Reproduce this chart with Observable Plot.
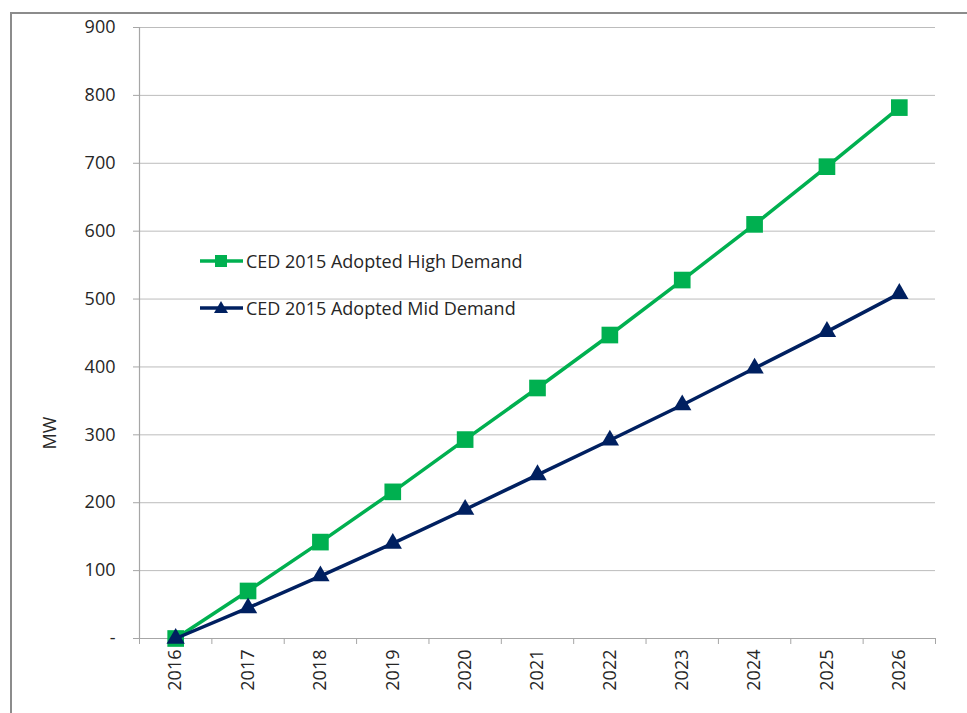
<!DOCTYPE html>
<html><head><meta charset="utf-8">
<script src="https://cdn.jsdelivr.net/npm/d3@7"></script>
<script src="https://cdn.jsdelivr.net/npm/@observablehq/plot@0.6"></script>
<style>
body{margin:0;background:#fff;font-family:"Open Sans",sans-serif;}
#wrap{position:relative;width:967px;height:713px;overflow:hidden;}
#frame{position:absolute;left:10px;top:12px;width:1000px;height:800px;border:2px solid #8c8c8c;box-sizing:border-box;pointer-events:none;}
.leg{position:absolute;left:200px;display:flex;align-items:center;font-size:18px;color:#262626;}
.leg svg{margin-right:3px;}
#ylab{position:absolute;left:49px;top:433px;transform:translate(-50%,-50%) rotate(-90deg);font-size:18px;color:#262626;}
</style></head>
<body><div id="wrap"><div id="frame"></div></div>
<script>
const years = [2016,2017,2018,2019,2020,2021,2022,2023,2024,2025,2026];
const highDemand = [0,70,142,216,293,369,447,528,610,695,782];
const midDemand = [0,45,92,140,190,241,292,344,398,452,508];
const seriesNames = ["CED 2015 Adopted High Demand","CED 2015 Adopted Mid Demand"];
const yTicks = [0,100,200,300,400,500,600,700,800,900];
const colors = ["#00B050","#002060"];

const high = years.map((y,i)=>({year:y,value:highDemand[i]}));
const mid = years.map((y,i)=>({year:y,value:midDemand[i]}));
const bounds = years.map(y=>y-0.5).concat([years[years.length-1]+0.5]);

const chart = Plot.plot({
  width:967, height:713,
  marginLeft:139, marginRight:32, marginTop:27, marginBottom:75,
  style:{fontFamily:"Open Sans, sans-serif", fontSize:"18px", color:"#262626", background:"transparent"},
  x:{type:"linear", domain:[bounds[0], bounds[bounds.length-1]]},
  y:{domain:[0,900]},
  marks:[
    Plot.gridY(yTicks,{stroke:"#bcbcbc",strokeOpacity:1}),
    Plot.ruleX([bounds[0]],{stroke:"#a6a6a6",strokeWidth:1.2}),
    Plot.ruleY([0],{stroke:"#a6a6a6",strokeWidth:1.2}),
    Plot.axisY(yTicks,{tickSize:6,tickPadding:18,stroke:"#a6a6a6",tickFormat:d=>d===0?"-":d,label:null,fontSize:18}),
    Plot.axisX(bounds,{tickSize:6,tickFormat:()=>"",stroke:"#a6a6a6",label:null}),
    Plot.axisX(years,{tickSize:0,tickPadding:11,tickRotate:-90,tickFormat:d=>String(d),label:null,fontSize:18}),
    Plot.line(high,{x:"year",y:"value",stroke:colors[0],strokeWidth:3.5}),
    Plot.dot(high,{x:"year",y:"value",symbol:"square",r:9.4,fill:colors[0]}),
    Plot.line(mid,{x:"year",y:"value",stroke:colors[1],strokeWidth:3.5}),
    Plot.dot(mid,{x:"year",y:"value",symbol:"triangle",r:6.8,fill:colors[1]})
  ]
});
const wrap = document.getElementById("wrap");
chart.style.position="absolute";chart.style.left="0";chart.style.top="0";
wrap.insertBefore(chart, wrap.firstChild);

const legTops=[262,309];
seriesNames.forEach((name,i)=>{
  const d=document.createElement("div");
  d.className="leg";
  d.style.top=(legTops[i]-13)+"px";
  const sym = i===0
    ? `<rect x="15" y="5" width="12" height="12" fill="${colors[0]}"/>`
    : `<path d="M21,4 L28,16 L14,16 Z" fill="${colors[1]}"/>`;
  d.innerHTML=`<svg width="43" height="22"><line x1="0" x2="43" y1="11" y2="11" stroke="${colors[i]}" stroke-width="3.5"/>${sym}</svg><span>${name}</span>`;
  wrap.appendChild(d);
});
const yl=document.createElement("div");yl.id="ylab";yl.textContent="MW";wrap.appendChild(yl);
</script></body></html>
